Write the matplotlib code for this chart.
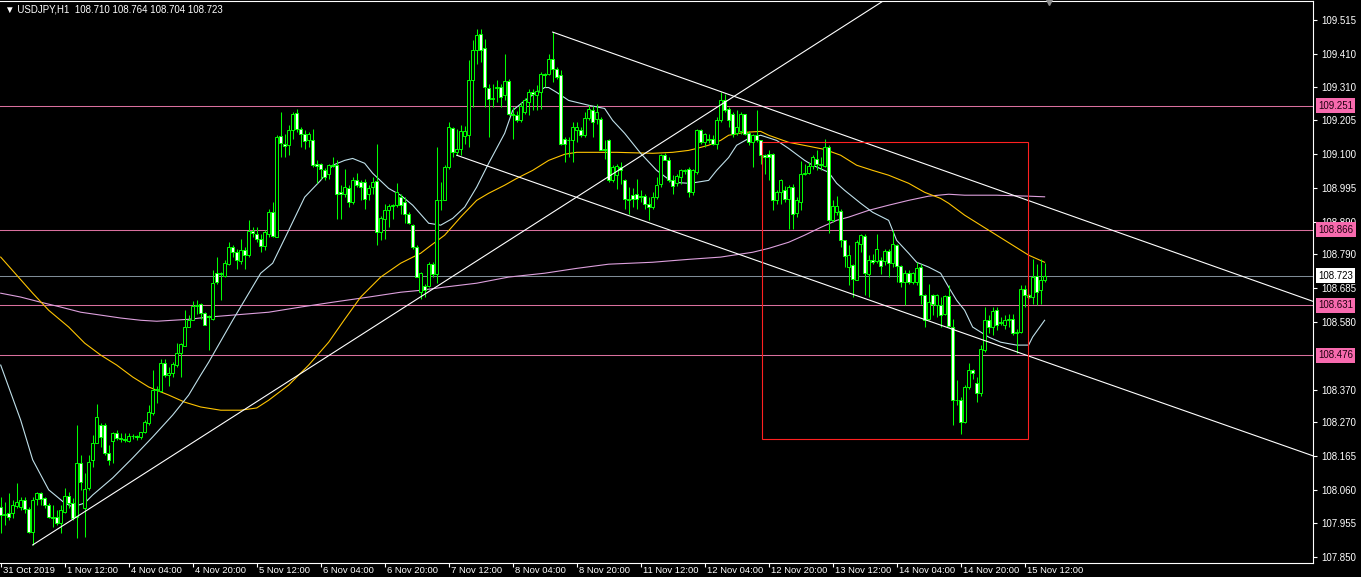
import matplotlib
matplotlib.use("Agg")
import matplotlib.pyplot as plt
import matplotlib.transforms as mtransforms
from matplotlib.patches import Rectangle
import numpy as np

# ---------------- data (USDJPY H1) ----------------
opens = [
    108.005, 107.981, 107.986, 107.986, 108.009, 108.007, 108.027, 107.998, 107.929, 108.030,
    108.048, 108.033, 108.012, 107.976, 107.976, 107.955, 107.991, 108.040, 108.017, 107.976,
    108.143, 108.002, 108.064, 108.151, 108.203, 108.260, 108.260, 108.172, 108.212, 108.236,
    108.219, 108.218, 108.211, 108.226, 108.226, 108.222, 108.237, 108.267, 108.298, 108.370,
    108.366, 108.451, 108.415, 108.420, 108.446, 108.482, 108.506, 108.565, 108.585, 108.629,
    108.635, 108.608, 108.598, 108.590, 108.732, 108.728, 108.722, 108.761, 108.811, 108.797,
    108.769, 108.802, 108.787, 108.861, 108.854, 108.838, 108.815, 108.854, 108.921, 108.844,
    109.156, 109.133, 109.128, 109.176, 109.228, 109.179, 109.162, 109.143, 109.145, 109.071,
    109.069, 109.052, 109.040, 109.066, 109.066, 108.983, 108.978, 108.996, 108.952, 109.021,
    109.014, 109.014, 108.978, 108.998, 109.016, 108.859, 108.900, 108.928, 108.939, 108.942,
    108.968, 108.952, 108.916, 108.882, 108.813, 108.673, 108.691, 108.691, 108.761, 108.728,
    108.959, 108.959, 109.060, 109.181, 109.107, 109.117, 109.156, 109.159, 109.329, 109.422,
    109.472, 109.430, 109.306, 109.272, 109.306, 109.310, 109.283, 109.327, 109.226, 109.223,
    109.207, 109.231, 109.262, 109.293, 109.283, 109.293, 109.348, 109.348, 109.396, 109.365,
    109.345, 109.148, 109.145, 109.143, 109.174, 109.176, 109.159, 109.213, 109.238, 109.210,
    109.210, 109.117, 109.145, 109.019, 109.035, 109.060, 109.021, 108.962, 108.975, 108.978,
    108.970, 108.970, 108.947, 108.936, 108.967, 109.007, 109.097, 109.083, 109.019, 109.011,
    109.030, 109.047, 109.055, 108.983, 109.045, 109.176, 109.138, 109.148, 109.148, 109.133,
    109.207, 109.269, 109.241, 109.226, 109.166, 109.172, 109.224, 109.166, 109.138, 109.159,
    109.143, 109.097, 109.102, 109.102, 108.959, 108.983, 108.988, 108.962, 108.998, 108.918,
    108.952, 109.038, 109.042, 109.063, 109.086, 109.069, 109.063, 109.124, 108.895, 108.921,
    108.923, 108.833, 108.750, 108.756, 108.711, 108.823, 108.846, 108.730, 108.773, 108.768,
    108.771, 108.769, 108.800, 108.763, 108.818, 108.753, 108.704, 108.732, 108.704, 108.704,
    108.750, 108.663, 108.590, 108.663, 108.632, 108.632, 108.606, 108.660, 108.565, 108.339,
    108.339, 108.270, 108.377, 108.432, 108.389, 108.358, 108.494, 108.587, 108.565, 108.616,
    108.577, 108.570, 108.587, 108.590, 108.544, 108.549, 108.683, 108.663, 108.658, 108.722,
    108.678, 108.710,
]
highs = [
    108.038, 108.022, 108.048, 108.027, 108.079, 108.038, 108.038, 108.007, 108.038, 108.053,
    108.053, 108.038, 108.017, 108.012, 107.996, 108.012, 108.064, 108.053, 108.033, 108.260,
    108.167, 108.110, 108.167, 108.229, 108.325, 108.265, 108.265, 108.198, 108.239, 108.244,
    108.234, 108.234, 108.234, 108.231, 108.229, 108.239, 108.275, 108.322, 108.432, 108.381,
    108.466, 108.466, 108.441, 108.456, 108.516, 108.513, 108.618, 108.601, 108.644, 108.649,
    108.640, 108.611, 108.600, 108.740, 108.782, 108.735, 108.771, 108.828, 108.818, 108.807,
    108.838, 108.813, 108.895, 108.875, 108.875, 108.854, 108.864, 108.931, 108.952, 109.159,
    109.231, 109.164, 109.190, 109.231, 109.241, 109.184, 109.174, 109.169, 109.179, 109.081,
    109.073, 109.057, 109.071, 109.091, 109.081, 109.004, 109.055, 109.004, 109.030, 109.042,
    109.019, 109.024, 109.004, 109.030, 109.131, 108.908, 108.945, 108.945, 108.947, 109.011,
    108.978, 108.968, 108.921, 108.885, 108.818, 108.735, 108.699, 108.766, 108.766, 109.122,
    109.014, 109.066, 109.200, 109.184, 109.179, 109.190, 109.187, 109.391, 109.453, 109.489,
    109.489, 109.458, 109.319, 109.319, 109.331, 109.319, 109.410, 109.334, 109.246, 109.233,
    109.262, 109.275, 109.303, 109.303, 109.314, 109.355, 109.352, 109.412, 109.479, 109.370,
    109.360, 109.153, 109.153, 109.200, 109.200, 109.184, 109.231, 109.252, 109.249, 109.255,
    109.215, 109.143, 109.148, 109.066, 109.069, 109.076, 109.024, 108.998, 108.995, 109.024,
    108.990, 108.976, 108.967, 108.983, 109.030, 109.102, 109.104, 109.091, 109.035, 109.040,
    109.055, 109.055, 109.060, 109.055, 109.179, 109.179, 109.166, 109.164, 109.159, 109.215,
    109.293, 109.288, 109.246, 109.231, 109.236, 109.231, 109.226, 109.172, 109.164, 109.236,
    109.143, 109.102, 109.112, 109.104, 108.988, 109.024, 109.001, 109.004, 109.009, 108.967,
    109.079, 109.071, 109.076, 109.097, 109.112, 109.091, 109.148, 109.128, 108.957, 108.969,
    108.931, 108.835, 108.818, 108.761, 108.833, 108.854, 108.852, 108.787, 108.792, 108.852,
    108.781, 108.807, 108.807, 108.866, 108.823, 108.756, 108.740, 108.740, 108.735, 108.766,
    108.761, 108.668, 108.699, 108.668, 108.668, 108.658, 108.663, 108.694, 108.590, 108.399,
    108.348, 108.384, 108.451, 108.435, 108.410, 108.508, 108.627, 108.601, 108.627, 108.627,
    108.596, 108.601, 108.606, 108.606, 108.559, 108.694, 108.694, 108.668, 108.776, 108.761,
    108.776, 108.764,
]
lows = [
    107.924, 107.950, 107.965, 107.971, 108.002, 107.996, 107.986, 107.924, 107.888, 108.012,
    108.012, 108.002, 107.971, 107.945, 107.950, 107.924, 107.986, 108.002, 107.965, 107.909,
    108.058, 107.914, 108.058, 108.131, 108.203, 108.193, 108.167, 108.136, 108.141, 108.213,
    108.208, 108.208, 108.208, 108.218, 108.213, 108.218, 108.234, 108.260, 108.291, 108.327,
    108.363, 108.410, 108.381, 108.410, 108.441, 108.410, 108.506, 108.565, 108.585, 108.606,
    108.590, 108.570, 108.492, 108.585, 108.699, 108.647, 108.720, 108.756, 108.782, 108.745,
    108.761, 108.745, 108.782, 108.844, 108.828, 108.797, 108.804, 108.844, 108.842, 108.842,
    109.091, 109.091, 109.097, 109.148, 109.169, 109.122, 109.117, 109.122, 109.060, 109.011,
    109.024, 109.019, 109.024, 109.060, 108.900, 108.900, 108.968, 108.937, 108.947, 108.998,
    108.957, 108.931, 108.957, 108.978, 108.818, 108.833, 108.838, 108.875, 108.900, 108.937,
    108.916, 108.887, 108.885, 108.807, 108.720, 108.652, 108.658, 108.689, 108.720, 108.701,
    108.926, 108.957, 109.055, 109.091, 109.097, 109.097, 109.133, 109.122, 109.246, 109.381,
    109.386, 109.246, 109.153, 109.246, 109.262, 109.246, 109.267, 109.221, 109.148, 109.200,
    109.200, 109.226, 109.221, 109.236, 109.236, 109.241, 109.308, 109.345, 109.324, 109.335,
    109.128, 109.076, 109.091, 109.076, 109.138, 109.153, 109.153, 109.205, 109.153, 109.195,
    109.112, 109.086, 109.014, 109.014, 108.993, 109.009, 108.931, 108.916, 108.936, 108.931,
    108.952, 108.931, 108.895, 108.931, 108.962, 108.998, 109.081, 109.014, 108.978, 109.001,
    109.009, 109.038, 108.967, 108.975, 109.040, 109.133, 109.124, 109.135, 109.128, 109.117,
    109.200, 109.231, 109.186, 109.155, 109.159, 109.162, 109.159, 109.128, 109.060, 109.138,
    109.071, 109.040, 109.019, 108.926, 108.947, 108.947, 108.952, 108.869, 108.869, 108.906,
    108.926, 109.035, 109.040, 109.055, 109.050, 109.050, 109.060, 108.856, 108.890, 108.911,
    108.812, 108.750, 108.694, 108.658, 108.709, 108.797, 108.663, 108.658, 108.761, 108.763,
    108.730, 108.756, 108.719, 108.750, 108.704, 108.689, 108.632, 108.699, 108.699, 108.694,
    108.637, 108.565, 108.585, 108.601, 108.596, 108.565, 108.601, 108.565, 108.260, 108.322,
    108.232, 108.265, 108.373, 108.404, 108.332, 108.350, 108.487, 108.544, 108.539, 108.556,
    108.570, 108.559, 108.565, 108.539, 108.482, 108.544, 108.627, 108.653, 108.637, 108.632,
    108.637, 108.704,
]
closes = [
    107.981, 107.983, 107.974, 108.012, 108.022, 108.027, 107.998, 107.929, 108.027, 108.050,
    108.030, 108.012, 107.976, 107.972, 107.957, 107.996, 108.040, 108.017, 107.971, 108.143,
    108.084, 108.061, 108.146, 108.203, 108.286, 108.224, 108.172, 108.151, 108.234, 108.219,
    108.218, 108.215, 108.226, 108.226, 108.222, 108.237, 108.270, 108.301, 108.370, 108.373,
    108.451, 108.415, 108.420, 108.448, 108.485, 108.510, 108.565, 108.587, 108.629, 108.632,
    108.608, 108.570, 108.594, 108.701, 108.704, 108.732, 108.763, 108.811, 108.797, 108.771,
    108.802, 108.787, 108.861, 108.856, 108.838, 108.816, 108.859, 108.921, 108.846, 109.153,
    109.135, 109.126, 109.176, 109.226, 109.179, 109.162, 109.141, 109.162, 109.066, 109.063,
    109.053, 109.030, 109.066, 109.063, 108.978, 108.976, 108.998, 108.952, 109.021, 109.004,
    108.998, 108.962, 108.996, 109.014, 108.859, 108.903, 108.928, 108.939, 108.944, 108.983,
    108.942, 108.916, 108.887, 108.811, 108.720, 108.732, 108.678, 108.761, 108.728, 108.959,
    108.957, 109.060, 109.184, 109.107, 109.117, 109.171, 109.171, 109.329, 109.422, 109.469,
    109.424, 109.308, 109.272, 109.275, 109.310, 109.277, 109.327, 109.226, 109.222, 109.207,
    109.249, 109.267, 109.293, 109.286, 109.296, 109.348, 109.347, 109.396, 109.365, 109.341,
    109.133, 109.133, 109.143, 109.186, 109.186, 109.159, 109.213, 109.241, 109.200, 109.231,
    109.114, 109.112, 109.019, 109.060, 109.063, 109.050, 108.962, 108.959, 108.962, 108.962,
    108.967, 108.947, 108.936, 108.967, 109.004, 109.097, 109.083, 109.019, 109.001, 109.032,
    109.050, 109.050, 108.983, 109.050, 109.174, 109.138, 109.162, 109.145, 109.133, 109.207,
    109.267, 109.236, 109.207, 109.164, 109.186, 109.224, 109.164, 109.138, 109.159, 109.143,
    109.097, 109.091, 109.091, 108.959, 108.983, 109.019, 108.962, 108.998, 108.916, 108.957,
    109.038, 109.042, 109.063, 109.091, 109.069, 109.066, 109.124, 108.897, 108.938, 108.938,
    108.835, 108.784, 108.787, 108.714, 108.828, 108.849, 108.732, 108.773, 108.766, 108.807,
    108.753, 108.800, 108.763, 108.821, 108.753, 108.704, 108.732, 108.704, 108.732, 108.748,
    108.663, 108.587, 108.642, 108.637, 108.663, 108.601, 108.660, 108.567, 108.337, 108.337,
    108.270, 108.379, 108.432, 108.420, 108.358, 108.497, 108.587, 108.565, 108.613, 108.570,
    108.580, 108.587, 108.590, 108.544, 108.549, 108.683, 108.663, 108.658, 108.719, 108.673,
    108.709, 108.723,
]

# moving averages (bar index, price)
ma_fast_idx = [0, 5, 8, 12, 16, 18, 21, 23, 28, 33, 38, 43, 47, 50, 52, 58, 65, 68, 72, 76,
               80, 83, 86, 88, 91, 93, 97, 100, 103, 107, 110, 113, 116, 119, 122, 126, 128, 132,
               136, 137, 139, 142, 147, 151, 153, 156, 160, 164, 168, 172, 174, 177, 179, 182,
               184, 187, 190, 194, 197, 201, 203, 207, 209, 211, 215, 218, 222, 224, 227, 229,
               232, 235, 237, 239, 241, 243, 247, 250, 254, 257, 258, 261]
ma_fast_val = [108.446, 108.275, 108.152, 108.059, 108.018, 108.006, 108.018, 108.043, 108.096,
               108.158, 108.223, 108.291, 108.353, 108.415, 108.455, 108.585, 108.731, 108.762,
               108.864, 108.967, 109.019, 109.066, 109.081, 109.087, 109.072, 109.041, 108.994,
               108.973, 108.942, 108.886, 108.880, 108.901, 108.936, 108.998, 109.072, 109.165,
               109.236, 109.276, 109.307, 109.307, 109.292, 109.267, 109.252, 109.242, 109.205,
               109.165, 109.103, 109.050, 109.013, 109.010, 109.013, 109.019, 109.050, 109.090,
               109.128, 109.149, 109.159, 109.143, 109.118, 109.081, 109.066, 109.044, 109.010,
               108.988, 108.948, 108.920, 108.895, 108.833, 108.793, 108.765, 108.750, 108.731,
               108.688, 108.647, 108.616, 108.564, 108.533, 108.517, 108.508, 108.508, 108.533,
               108.585]

ma_mid_idx = [0, 4, 8, 12, 17, 21, 25, 29, 33, 37, 42, 46, 50, 55, 60, 64, 67, 72, 77, 82,
              86, 90, 95, 100, 105, 107, 111, 115, 119, 122, 126, 129, 133, 137, 141, 144, 149,
              154, 163, 168, 172, 174, 177, 180, 182, 186, 190, 192, 197, 202, 206, 210, 214,
              218, 222, 227, 231, 235, 237, 241, 245, 249, 253, 257, 261]
ma_mid_val = [108.781, 108.725, 108.669, 108.616, 108.564, 108.514, 108.477, 108.446, 108.409,
              108.378, 108.353, 108.331, 108.316, 108.306, 108.306, 108.313, 108.337, 108.384,
              108.446, 108.517, 108.588, 108.657, 108.719, 108.762, 108.793, 108.812, 108.849,
              108.905, 108.957, 108.979, 109.004, 109.025, 109.050, 109.081, 109.100, 109.106,
              109.106, 109.106, 109.103, 109.106, 109.112, 109.118, 109.128, 109.143, 109.159,
              109.168, 109.171, 109.159, 109.137, 109.125, 109.115, 109.097, 109.066, 109.050,
              109.035, 109.010, 108.982, 108.963, 108.948, 108.911, 108.880, 108.849, 108.818,
              108.787, 108.765]

ma_slow_idx = [0, 5, 10, 15, 20, 25, 30, 35, 39, 43, 47, 52, 58, 67, 75, 83, 92, 100, 105,
               111, 119, 127, 136, 144, 152, 163, 172, 180, 188, 192, 197, 201, 205, 209, 212,
               217, 222, 227, 232, 237, 241, 249, 257, 261]
ma_slow_val = [108.669, 108.657, 108.641, 108.626, 108.610, 108.601, 108.592, 108.585, 108.582,
               108.585, 108.588, 108.595, 108.601, 108.610, 108.626, 108.641, 108.657, 108.672,
               108.678, 108.688, 108.700, 108.719, 108.731, 108.746, 108.759, 108.765, 108.774,
               108.781, 108.796, 108.808, 108.827, 108.849, 108.873, 108.895, 108.905, 108.926,
               108.942, 108.957, 108.970, 108.976, 108.973, 108.973, 108.970, 108.968]

# trend lines: (bar, price) anchor pairs
trend_lines = [((8, 107.888), (180, 109.253)),
               ((138, 109.479), (256.8, 108.957)),
               ((114, 109.097), (256.8, 108.475))]
box_bars = (190.3, 256.8)
box_prices = (108.217, 109.137)

levels = [109.251, 108.866, 108.631, 108.476]
bid = 108.723

y_ticks = [109.515, 109.410, 109.310, 109.205, 109.100, 108.995, 108.890, 108.790, 108.685,
           108.580, 108.370, 108.270, 108.165, 108.060, 107.955, 107.850]
x_tick_bars = list(range(0, 257, 16))
x_tick_labels = ["31 Oct 2019", "1 Nov 12:00", "4 Nov 04:00", "4 Nov 20:00", "5 Nov 12:00",
                 "6 Nov 04:00", "6 Nov 20:00", "7 Nov 12:00", "8 Nov 04:00", "8 Nov 20:00",
                 "11 Nov 12:00", "12 Nov 04:00", "12 Nov 20:00", "13 Nov 12:00", "14 Nov 04:00",
                 "14 Nov 20:00", "15 Nov 12:00"]

# ---------------- figure ----------------
plt.rcParams['font.family'] = ['Liberation Sans', 'DejaVu Sans']
W, H = 1361, 577
fig = plt.figure(figsize=(W / 100, H / 100), dpi=100, facecolor='black')
ax = fig.add_axes([0, 14 / H, 1313 / W, 562.5 / H], facecolor='black')

green = '#00FF00'
o = np.array(opens); h = np.array(highs); l = np.array(lows); c = np.array(closes)
x = np.arange(len(o))

# horizontal levels
for lv in levels:
    ax.axhline(lv, color='#D9709E', lw=0.75, zorder=1)
ax.axhline(bid, color='#7F8C97', lw=0.75, zorder=1)

# MAs
ax.plot(ma_slow_idx, ma_slow_val, color='#DDA0DD', lw=0.8, zorder=2)
ax.plot(ma_mid_idx, ma_mid_val, color='#FFC400', lw=0.8, zorder=2)
ax.plot(ma_fast_idx, ma_fast_val, color='#BFE0EA', lw=0.8, zorder=2)

# candles
ax.vlines(x, l, h, color=green, lw=0.75, zorder=3)
faces = np.where(c >= o, 'black', 'white')
ax.bar(x, np.abs(c - o), bottom=np.minimum(o, c), width=0.72, color=faces,
       edgecolor=green, linewidth=0.7, zorder=4)

# trend lines (rays)
for (x1, y1), (x2, y2) in trend_lines:
    k = 20
    ax.plot([x1, x1 + (x2 - x1) * k], [y1, y1 + (y2 - y1) * k], color='white', lw=0.8, zorder=5)

ax.add_patch(Rectangle((box_bars[0], box_prices[0]), box_bars[1] - box_bars[0],
                       box_prices[1] - box_prices[0], fill=False, ec='#FF2020', lw=0.8, zorder=5))

ax.set_xlim(-0.175, 328.1)
ax.set_ylim(107.832, 109.577)

# axes styling
for s in ['top', 'right', 'bottom']:
    ax.spines[s].set_color('white')
    ax.spines[s].set_linewidth(0.8)
ax.spines['left'].set_visible(False)
ax.yaxis.tick_right()
ax.set_yticks(y_ticks)
ax.set_yticklabels(['%.3f' % v for v in y_ticks])
ax.set_xticks(x_tick_bars)
ax.set_xticklabels(x_tick_labels)
ax.tick_params(axis='y', colors='white', labelsize=7, length=3, width=0.8, pad=3)
ax.tick_params(axis='x', colors='white', labelsize=6.8, length=3, width=0.8, pad=0)
offset = mtransforms.ScaledTranslation(2 / 100, 1.5 / 100, fig.dpi_scale_trans)
for lbl in ax.get_xticklabels():
    lbl.set_ha('left')
    lbl.set_transform(lbl.get_transform() + offset)

# price labels on the scale
tr = mtransforms.blended_transform_factory(ax.transAxes, ax.transData)
for lv in levels:
    ax.text(1.0 + 5 / 1313, lv, '%.3f' % lv, transform=tr, fontsize=7, color='#200010',
            va='center', ha='left', clip_on=False, zorder=10,
            bbox=dict(boxstyle='square,pad=0.25', fc='#F76AAE', ec='none'))
ax.text(1.0 + 5 / 1313, bid, '%.3f' % bid, transform=tr, fontsize=7, color='black',
        va='center', ha='left', clip_on=False, zorder=10,
        bbox=dict(boxstyle='square,pad=0.25', fc='white', ec='none'))

# title and shift marker
ax.text(0.004, 0.992, '\u25bc USDJPY,H1  108.710 108.764 108.704 108.723', transform=ax.transAxes,
        fontsize=7, color='white', va='top', ha='left', zorder=10)
ax.plot([262], [109.577], marker='v', color='#8C8C8C', ms=6, clip_on=False, zorder=10)

fig.savefig('out.png', dpi=100, facecolor='black')
